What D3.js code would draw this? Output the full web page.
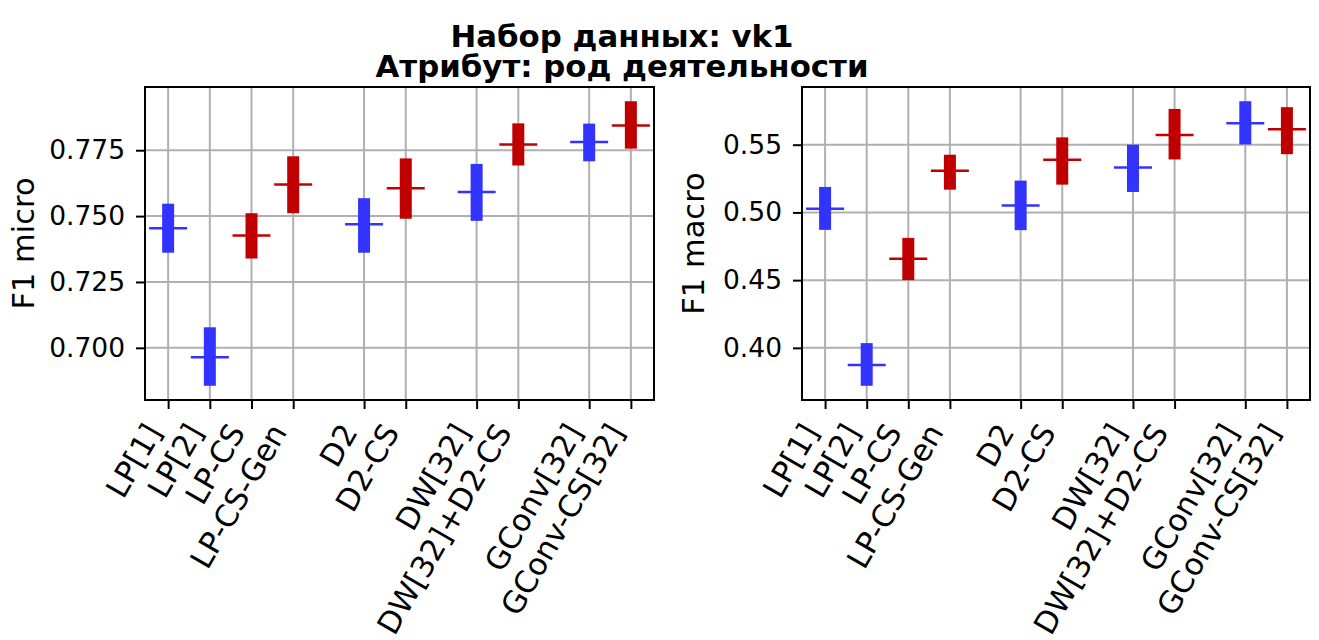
<!DOCTYPE html>
<html lang="ru">
<head>
    <meta charset="UTF-8">
    <title>Набор данных: vk1</title>
    <script src="https://d3js.org/d3.v7.min.js"></script>
    <style>
        body { margin: 0; background: white; }
        svg text { font-family: "DejaVu Sans", "Noto Sans", sans-serif; }
        .grid line { stroke: #b0b0b0; stroke-width: 2; }
        .axis path { display: none; }
        .axis line { stroke: #000; stroke-width: 2; }
        .axis text { fill: #000; }
        .y-axis text { font-size: 26.5px; }
        .x-axis text { font-size: 30.5px; }
        .ylabel { font-size: 30.5px; fill: #000; }
        .title { font-size: 30.8px; font-weight: bold; fill: #000; }
    </style>
</head>
<body>
<svg id="chart" width="1319" height="640"></svg>
<script>
    // Methods, in plotting order, and the group each one belongs to
    const methods = ['LP[1]', 'LP[2]', 'LP-CS', 'LP-CS-Gen', 'D2', 'D2-CS',
                     'DW[32]', 'DW[32]+D2-CS', 'GConv[32]', 'GConv-CS[32]'];
    const groups = [0, 0, 0, 0, 1, 1, 2, 2, 3, 3];
    const kinds = ['base', 'base', 'cs', 'cs', 'base', 'cs', 'base', 'cs', 'base', 'cs'];

    // F1 micro: mean and spread (low / high)
    const microMean = [0.7454, 0.6964, 0.7426, 0.7620, 0.7469, 0.7606, 0.7591, 0.7772, 0.7781, 0.7844];
    const microLow  = [0.7361, 0.6856, 0.7339, 0.7511, 0.7361, 0.7490, 0.7482, 0.7692, 0.7708, 0.7756];
    const microHigh = [0.7547, 0.7078, 0.7511, 0.7727, 0.7568, 0.7719, 0.7698, 0.7852, 0.7851, 0.7936];
    const microTicks = [0.700, 0.725, 0.750, 0.775];

    // F1 macro: mean and spread (low / high)
    const macroMean = [0.5027, 0.3874, 0.4658, 0.5307, 0.5052, 0.5389, 0.5331, 0.5571, 0.5658, 0.5614];
    const macroLow  = [0.4871, 0.3720, 0.4500, 0.5168, 0.4869, 0.5205, 0.5151, 0.5391, 0.5502, 0.5430];
    const macroHigh = [0.5188, 0.4035, 0.4812, 0.5426, 0.5235, 0.5554, 0.5500, 0.5764, 0.5821, 0.5777];
    const macroTicks = [0.40, 0.45, 0.50, 0.55];

    const colors = { base: '#3333ff', cs: '#c00000' };
    const groupGap = 0.7;

    const svg = d3.select('#chart');
    svg.append('rect').attr('width', 1319).attr('height', 640).attr('fill', 'white');

    // Title (two lines, tight spacing as in the original)
    svg.append('text').attr('class', 'title').attr('text-anchor', 'middle')
        .attr('x', 622).attr('y', 47).text('Набор данных: vk1');
    svg.append('text').attr('class', 'title').attr('text-anchor', 'middle')
        .attr('x', 622).attr('y', 77).text('Атрибут: род деятельности');

    function drawPanel(opts) {
        const { left, top, width, height, mean, low, high, ticks, fmt, label, labelX } = opts;
        const g = svg.append('g').attr('transform', `translate(${left},${top})`);

        // x positions: index plus extra gap between groups
        const pos = methods.map((m, i) => i + groups[i] * groupGap);
        const span = d3.max(pos) - d3.min(pos);
        const x = d3.scaleLinear()
            .domain([d3.min(pos) - span * 0.05, d3.max(pos) + span * 0.05])
            .range([0, width]);

        const yMin = d3.min(low), yMax = d3.max(high);
        const yPad = (yMax - yMin) * 0.05;
        const y = d3.scaleLinear().domain([yMin - yPad, yMax + yPad]).range([height, 0]);

        // Grid
        const grid = g.append('g').attr('class', 'grid');
        grid.selectAll('.gx').data(pos).enter().append('line')
            .attr('x1', d => x(d)).attr('x2', d => x(d))
            .attr('y1', 0).attr('y2', height);
        grid.selectAll('.gy').data(ticks).enter().append('line')
            .attr('x1', 0).attr('x2', width)
            .attr('y1', d => y(d)).attr('y2', d => y(d));

        // Boxes (spread) and mean markers
        const boxW = 12, meanW = 38;
        const items = methods.map((m, i) => ({ m, p: pos[i], mean: mean[i], lo: low[i], hi: high[i], kind: kinds[i] }));
        g.selectAll('.box').data(items).enter().append('rect')
            .attr('x', d => x(d.p) - boxW / 2)
            .attr('width', boxW)
            .attr('y', d => y(d.hi))
            .attr('height', d => y(d.lo) - y(d.hi))
            .attr('fill', d => colors[d.kind]);
        g.selectAll('.mean').data(items).enter().append('line')
            .attr('x1', d => x(d.p) - meanW / 2)
            .attr('x2', d => x(d.p) + meanW / 2)
            .attr('y1', d => y(d.mean)).attr('y2', d => y(d.mean))
            .attr('stroke', d => colors[d.kind])
            .attr('stroke-width', 2.5);

        // Axes (drop d3's default font attributes so the CSS font applies)
        const yAxis = g.append('g').attr('class', 'axis y-axis')
            .call(d3.axisLeft(y).tickValues(ticks).tickFormat(d3.format(fmt)).tickSize(9).tickPadding(11));
        yAxis.attr('font-family', null).attr('font-size', null);

        const xAxis = g.append('g').attr('class', 'axis x-axis')
            .attr('transform', `translate(0,${height})`)
            .call(d3.axisBottom(x).tickValues(pos).tickFormat((d, i) => methods[i]).tickSize(9));
        xAxis.attr('font-family', null).attr('font-size', null);
        xAxis.selectAll('text')
            .attr('x', 0).attr('y', 0).attr('dy', null)
            .attr('text-anchor', 'end')
            .attr('transform', 'translate(-6,32) rotate(-60)');

        // Frame
        g.append('rect').attr('width', width).attr('height', height)
            .attr('fill', 'none').attr('stroke', '#000').attr('stroke-width', 2);

        // y label
        svg.append('text').attr('class', 'ylabel')
            .attr('text-anchor', 'middle')
            .attr('transform', `translate(${labelX},${top + height / 2}) rotate(-90)`)
            .text(label);
    }

    drawPanel({ left: 145, top: 87, width: 509, height: 313,
                mean: microMean, low: microLow, high: microHigh,
                ticks: microTicks, fmt: '.3f', label: 'F1 micro', labelX: 34 });

    drawPanel({ left: 802, top: 87, width: 508, height: 313,
                mean: macroMean, low: macroLow, high: macroHigh,
                ticks: macroTicks, fmt: '.2f', label: 'F1 macro', labelX: 704 });
</script>
</body>
</html>
